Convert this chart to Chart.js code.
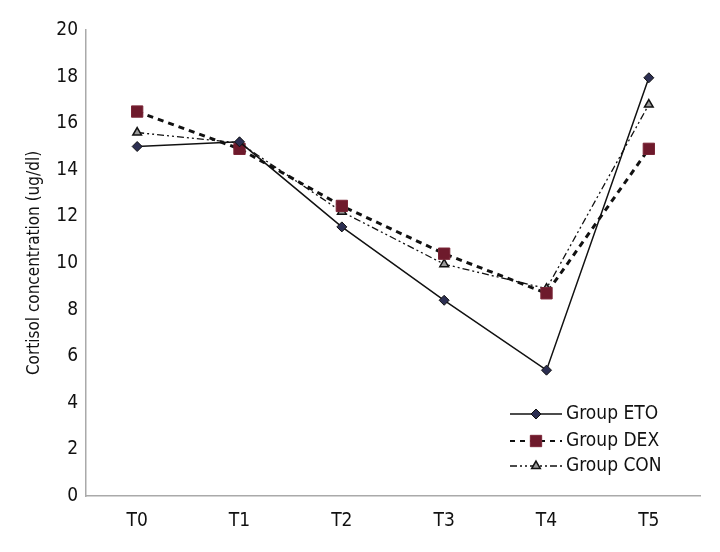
<!DOCTYPE html>
<html lang="en">
<head>
    <meta charset="UTF-8">
    <title>Cortisol concentration</title>
    <style>
        body {
            margin: 0;
            background: #fff;
        }
        #wrap {
            position: relative;
            width: 720px;
            height: 552px;
        }
    </style>
</head>
<body>
    <div id="wrap"><canvas id="cortisolChart" width="720" height="552"></canvas></div>

    <script src="https://cdn.jsdelivr.net/npm/chart.js"></script>
    <script>
        // values
        const timePoints = ['T0', 'T1', 'T2', 'T3', 'T4', 'T5'];
        const groupETO = [15.0, 15.2, 11.55, 8.4, 5.4, 17.95];
        const groupDEX = [16.5, 14.9, 12.45, 10.4, 8.7, 14.9];
        const groupCON = [15.6, 15.15, 12.2, 9.95, 8.9, 16.8];
        const yTicks = [0, 2, 4, 6, 8, 10, 12, 14, 16, 18, 20];

        // condensed face of DejaVu Sans, via font-stretch in the canvas font string
        const fontFamily = '"DejaVu Sans", sans-serif';
        const fontStretch = 'condensed';

        // legend drawn inside the plot, bottom right
        const insideLegend = {
            id: 'insideLegend',
            afterDraw(chart) {
                const ctx = chart.ctx;
                const x0 = 510, x1 = 562, rowY = [414, 441, 466];
                chart.data.datasets.forEach((ds, i) => {
                    const y = rowY[i];
                    ctx.save();
                    ctx.strokeStyle = ds.borderColor;
                    ctx.lineWidth = Math.min(ds.borderWidth, 2);
                    ctx.setLineDash(ds.legendDash || ds.borderDash || []);
                    ctx.beginPath();
                    ctx.moveTo(x0, y);
                    ctx.lineTo(x1, y);
                    ctx.stroke();
                    ctx.setLineDash([]);
                    ctx.fillStyle = ds.pointBackgroundColor;
                    ctx.strokeStyle = ds.pointBorderColor;
                    ctx.lineWidth = ds.pointBorderWidth;
                    Chart.helpers.drawPoint(ctx, {
                        pointStyle: ds.pointStyle,
                        radius: ds.pointRadius,
                        borderWidth: ds.pointBorderWidth,
                        rotation: 0
                    }, (x0 + x1) / 2, y);
                    ctx.fillStyle = '#111';
                    ctx.font = fontStretch + ' 19px ' + fontFamily;
                    ctx.textBaseline = 'middle';
                    ctx.textAlign = 'left';
                    ctx.fillText(ds.label, x1 + 4, y);
                    ctx.restore();
                });
            }
        };

        const ctx = document.getElementById('cortisolChart').getContext('2d');
        new Chart(ctx, {
            type: 'line',
            data: {
                labels: timePoints,
                datasets: [
                    {
                        label: 'Group ETO',
                        data: groupETO,
                        borderColor: '#111',
                        borderWidth: 1.5,
                        pointStyle: 'rectRot',
                        pointRadius: 5,
                        pointBackgroundColor: '#2c2f52',
                        pointBorderColor: '#111',
                        pointBorderWidth: 1,
                        tension: 0
                    },
                    {
                        label: 'Group DEX',
                        data: groupDEX,
                        borderColor: '#111',
                        borderWidth: 3,
                        borderDash: [6, 5],
                        legendDash: [5, 5],
                        pointStyle: 'rect',
                        pointRadius: 8,
                        pointBackgroundColor: '#6e1a2c',
                        pointBorderColor: '#7a2536',
                        pointBorderWidth: 1,
                        tension: 0
                    },
                    {
                        label: 'Group CON',
                        data: groupCON,
                        borderColor: '#111',
                        borderWidth: 1.3,
                        borderDash: [7, 3, 2, 3, 2, 3],
                        pointStyle: 'triangle',
                        pointRadius: 5,
                        pointBackgroundColor: '#9a9a9a',
                        pointBorderColor: '#111',
                        pointBorderWidth: 1.5,
                        tension: 0
                    }
                ]
            },
            options: {
                responsive: false,
                animation: false,
                layout: { padding: { top: 30, right: 20, left: 0, bottom: 0 } },
                plugins: {
                    legend: { display: false },
                    tooltip: { enabled: false }
                },
                scales: {
                    x: {
                        offset: true,
                        grid: { display: false, drawTicks: false },
                        border: { color: '#aaa', width: 1.5 },
                        ticks: {
                            color: '#111',
                            padding: 14,
                            font: { family: fontFamily, weight: fontStretch, size: 19 }
                        },
                        afterFit(scale) { scale.height = 56; }
                    },
                    y: {
                        min: 0,
                        max: 20,
                        afterBuildTicks(scale) {
                            scale.ticks = yTicks.map(v => ({ value: v }));
                        },
                        grid: { display: false, drawTicks: false },
                        border: { color: '#aaa', width: 1.5 },
                        ticks: {
                            color: '#111',
                            padding: 8,
                            font: { family: fontFamily, weight: fontStretch, size: 19 }
                        },
                        title: {
                            display: true,
                            text: 'Cortisol concentration (ug/dl)',
                            color: '#111',
                            padding: { top: 24, bottom: 0 },
                            font: { family: fontFamily, weight: fontStretch, size: 17 }
                        },
                        afterFit(scale) { scale.width = 86; }
                    }
                }
            },
            plugins: [insideLegend]
        });
    </script>
</body>
</html>
